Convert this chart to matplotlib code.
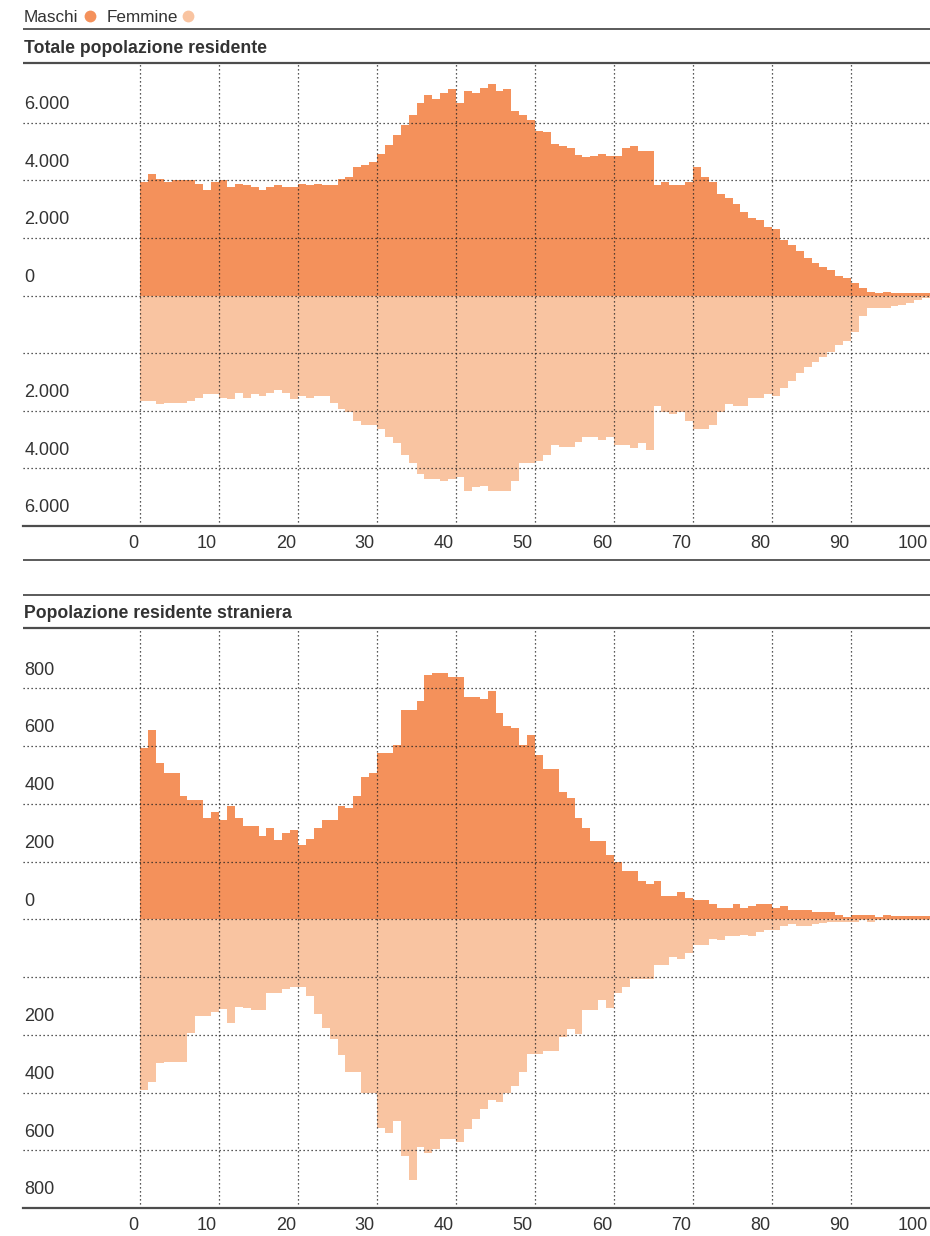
import matplotlib
matplotlib.use("Agg")
import matplotlib.pyplot as plt
from matplotlib.lines import Line2D
import numpy as np

# ---------------- data ----------------
ages = list(range(100))

tot_maschi = [3935, 4213, 4051, 3935, 3993, 3993, 3993, 3877, 3646, 3935,
              3993, 3762, 3877, 3819, 3762, 3646, 3762, 3819, 3762, 3762,
              3877, 3819, 3877, 3819, 3819, 4051, 4109, 4456, 4514, 4630,
              4919, 5208, 5556, 5903, 6250, 6690, 6944, 6806, 7037, 7153,
              6690, 7095, 7037, 7211, 7326, 7095, 7153, 6400, 6250, 6076,
              5706, 5660, 5266, 5197, 5127, 4861, 4803, 4850, 4919, 4850,
              4850, 5127, 5197, 5023, 5023, 3819, 3935, 3819, 3819, 3935,
              4456, 4109, 3935, 3530, 3368, 3183, 2894, 2674, 2604, 2384,
              2315, 1910, 1759, 1528, 1296, 1123, 1007, 891, 660, 602,
              428, 255, 139, 81, 139, 81, 81, 81, 81, 81]

tot_femmine = [3646, 3646, 3762, 3715, 3715, 3715, 3646, 3541, 3426, 3426,
               3541, 3600, 3368, 3541, 3426, 3484, 3368, 3264, 3368, 3600,
               3484, 3541, 3484, 3484, 3715, 3935, 4051, 4340, 4502, 4502,
               4618, 4896, 5127, 5521, 5799, 6192, 6366, 6366, 6424, 6366,
               6308, 6771, 6655, 6597, 6771, 6771, 6771, 6424, 5799, 5799,
               5752, 5521, 5185, 5243, 5243, 5069, 4896, 4896, 5012, 4896,
               5185, 5185, 5301, 5127, 5347, 3819, 4051, 4109, 4051, 4340,
               4618, 4618, 4502, 4051, 3773, 3819, 3819, 3541, 3541, 3426,
               3484, 3194, 2975, 2685, 2465, 2292, 2118, 1956, 1725, 1563,
               1273, 706, 428, 428, 428, 370, 312, 255, 150, 93]

str_maschi = [593, 656, 542, 507, 507, 428, 413, 413, 350, 372,
              344, 392, 351, 323, 323, 287, 315, 273, 300, 308,
              258, 279, 315, 344, 344, 392, 387, 428, 493, 506,
              576, 576, 604, 726, 726, 755, 847, 854, 854, 840,
              840, 769, 769, 762, 791, 713, 670, 663, 604, 640,
              569, 521, 521, 442, 421, 351, 315, 272, 272, 222,
              200, 167, 167, 132, 124, 131, 81, 81, 95, 74,
              67, 67, 52, 38, 38, 52, 38, 45, 52, 52,
              38, 45, 31, 31, 31, 24, 24, 24, 16, 9,
              16, 16, 16, 9, 16, 12, 12, 12, 12, 12]

str_femmine = [592, 564, 499, 494, 494, 494, 393, 336, 336, 322,
               309, 358, 303, 308, 315, 315, 257, 257, 243, 236,
               236, 265, 329, 378, 413, 471, 528, 528, 601, 601,
               724, 739, 699, 819, 903, 790, 811, 797, 762, 762,
               773, 727, 692, 657, 626, 633, 600, 578, 528, 465,
               465, 457, 457, 407, 379, 398, 315, 315, 280, 307,
               257, 236, 208, 208, 208, 157, 157, 130, 136, 115,
               88, 88, 67, 73, 58, 58, 53, 58, 44, 38,
               38, 23, 17, 23, 23, 15, 12, 9, 9, 9,
               9, 3, 9, 1, 1, 1, 1, 1, 1, 1]

x_ticks = [0, 10, 20, 30, 40, 50, 60, 70, 80, 90, 100]
x_labels = ["0", "10", "20", "30", "40", "50", "60", "70", "80", "90", "100"]

tot_label_vals = [6000, 4000, 2000, 0, -4000, -6000, -8000]
tot_labels = ["6.000", "4.000", "2.000", "0", "2.000", "4.000", "6.000"]
str_label_vals = [800, 600, 400, 200, 0, -400, -600, -800, -1000]
str_labels = ["800", "600", "400", "200", "0", "200", "400", "600", "800"]

titles = ["Totale popolazione residente", "Popolazione residente straniera"]
legend_names = ["Maschi", "Femmine"]

# ---------------- style ----------------
C_M = "#F4915B"
C_F = "#F9C4A1"
TXT = "#333333"
LINE = "#4d4d4d"
FONT = ["Liberation Sans", "DejaVu Sans"]
plt.rcParams["font.family"] = FONT

W, H = 930, 1236
fig = plt.figure(figsize=(W / 100, H / 100), dpi=100)


def fx(px):
    return px / W


def fy(py):
    return 1 - py / H


def hline(py, lw=1.6, color=LINE):
    fig.add_artist(Line2D([fx(23), fx(930)], [fy(py), fy(py)], color=color,
                          lw=lw, transform=fig.transFigure, solid_capstyle="butt"))


# legend
fig.text(fx(24), fy(21.7), legend_names[0], fontsize=12.3, color=TXT, va="baseline")
fig.text(fx(107), fy(21.7), legend_names[1], fontsize=12.3, color=TXT, va="baseline")
fig.add_artist(Line2D([fx(90)], [fy(15.7)], marker="o", ms=8.5, color=C_M, mec="none",
                      transform=fig.transFigure))
fig.add_artist(Line2D([fx(188)], [fy(15.7)], marker="o", ms=8.5, color=C_F, mec="none",
                      transform=fig.transFigure))
hline(29, 1.3)

x_left = -117 / 7.9


def panel(top_px, bot_px, ylim, males, females, lab_vals, labs, title, title_base):
    ax = fig.add_axes([fx(23), fy(bot_px), fx(930) - fx(23), (bot_px - top_px) / H])
    ax.bar(ages, males, width=1.0, align="edge", color=C_M, linewidth=0, zorder=1)
    ax.bar(ages, [-v for v in females], width=1.0, align="edge", color=C_F,
           linewidth=0, zorder=1)
    ax.set_xlim(x_left, 100)
    ax.set_ylim(*ylim)
    step = lab_vals[0] - lab_vals[1]
    for v in np.arange(ylim[0] + step, ylim[1] - step / 2, step):
        ax.axhline(v, color="#222222", lw=0.9, ls=(0, (1, 2.2)), zorder=3)
    for xv in x_ticks[:-1]:
        ax.axvline(xv, color="#222222", lw=0.9, ls=(0, (1, 2.2)), zorder=3)
    for s in ["top", "left", "right"]:
        ax.spines[s].set_visible(False)
    ax.spines["bottom"].set_color(LINE)
    ax.spines["bottom"].set_linewidth(1.6)
    ax.spines["bottom"].set_zorder(4)
    ax.set_xticks([])
    ax.set_yticks([])
    ax.patch.set_alpha(0)
    for v, t in zip(lab_vals, labs):
        ax.annotate(t, xy=(0, v), xycoords=("axes fraction", "data"),
                    xytext=(1, 9.8), textcoords="offset points", ha="left",
                    va="baseline", fontsize=13, color=TXT)
    for xv, t in zip(x_ticks, x_labels):
        ax.annotate(t, xy=(xv, 0), xycoords=("data", "axes fraction"),
                    xytext=(-1.5, -16), textcoords="offset points", ha="right",
                    va="baseline", fontsize=13, color=TXT)
    fig.text(fx(24), fy(title_base), title, fontsize=12.7, fontweight="bold",
             color=TXT, va="baseline")
    hline(top_px, 1.6)
    return ax


panel(63.3, 526, (-8000, 8060), tot_maschi, tot_femmine, tot_label_vals, tot_labels,
      titles[0], 52.7)
hline(560.3, 1.3)
hline(595, 1.3)
panel(628.3, 1208, (-1000, 1008), str_maschi, str_femmine, str_label_vals, str_labels,
      titles[1], 618)

fig.savefig("out.png", dpi=100)
